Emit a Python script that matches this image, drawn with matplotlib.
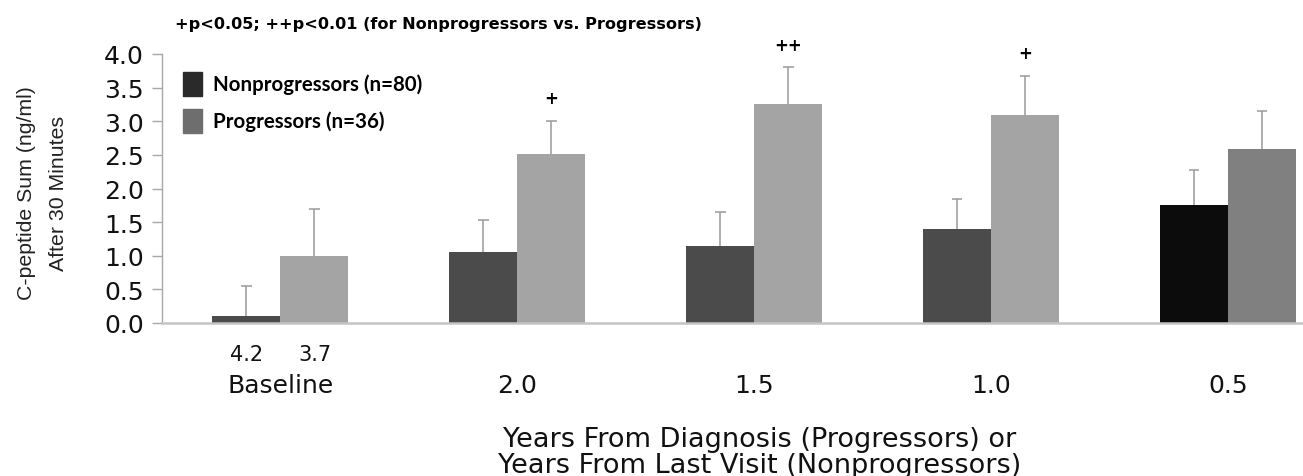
import matplotlib
matplotlib.use("Agg")
import matplotlib.pyplot as plt
from matplotlib.patches import Rectangle
import numpy as np

groups = ["Baseline", "2.0", "1.5", "1.0", "0.5"]
nonprog = [0.10, 1.05, 1.15, 1.40, 1.75]
nonprog_err = [0.45, 0.48, 0.50, 0.45, 0.53]
prog = [1.00, 2.52, 3.25, 3.10, 2.58]
prog_err = [0.70, 0.48, 0.55, 0.58, 0.57]
sig = ["", "+", "++", "+", ""]
baseline_sub = ["4.2", "3.7"]
yticks = [0.0, 0.5, 1.0, 1.5, 2.0, 2.5, 3.0, 3.5, 4.0]

W, H = 1303, 477
fig = plt.figure(figsize=(W / 100, H / 100), dpi=100)
ax = fig.add_axes([162 / W, 1 - 324 / H, (W - 162) / W, (324 - 55) / H])

x = np.arange(len(groups))
w = 0.287
c_np = ["#4b4b4b"] * 4 + ["#0c0c0c"]
c_p = ["#a4a4a4"] * 4 + ["#808080"]
ax.bar(x - w / 2, nonprog, w, color=c_np, zorder=2)
ax.bar(x + w / 2, prog, w, color=c_p, zorder=2)

# upper error bars only
ecol = "#9a9a9a"
cap = 0.022
for xs, vals, errs in [(x - w / 2, nonprog, nonprog_err), (x + w / 2, prog, prog_err)]:
    vals = np.asarray(vals)
    errs = np.asarray(errs)
    ax.vlines(xs, vals, vals + errs, color=ecol, lw=1.1, zorder=1)
    ax.hlines(vals + errs, xs - cap, xs + cap, color=ecol, lw=1.1, zorder=1)

for i, s in enumerate(sig):
    if s:
        ax.text(x[i] + w / 2, prog[i] + prog_err[i] + 0.34, s, ha="center", va="center",
                fontsize=12, fontweight="bold", family="DejaVu Sans")

ax.set_xlim(-0.50, 4.316)
ax.set_ylim(0, 4.0)
ax.set_yticks(yticks)
ax.set_yticklabels([f"{v:.1f}" for v in yticks], fontsize=18, family="DejaVu Sans")
ax.set_xticks([])
for sp in ["top", "right"]:
    ax.spines[sp].set_visible(False)
ax.spines["left"].set_color("#a8a8a8")
ax.spines["left"].set_linewidth(1.0)
ax.spines["bottom"].set_color("#c4c4c4")
ax.spines["bottom"].set_linewidth(1.8)
ax.tick_params(axis="y", colors="#a8a8a8", labelcolor="#111111", length=7, width=1.0, pad=6)

# sub labels and group labels
for j, xs in enumerate([x[0] - w / 2, x[0] + w / 2]):
    ax.text(xs, -0.46, baseline_sub[j], ha="center", va="center", fontsize=15,
            family="DejaVu Sans", color="#111111")
for i, g in enumerate(groups):
    ax.text(x[i], -0.92, g, ha="center", va="center", fontsize=18,
            family="DejaVu Sans", color="#111111")

fig.text(760 / W, 1 - 440 / H, "Years From Diagnosis (Progressors) or",
         ha="center", va="center", fontsize=19.5, family="DejaVu Sans", color="#111111")
fig.text(760 / W, 1 - 466 / H, "Years From Last Visit (Nonprogressors)",
         ha="center", va="center", fontsize=19.5, family="DejaVu Sans", color="#111111")

fig.text(27 / W, 1 - 193 / H, "C-peptide Sum (ng/ml)", rotation=90,
         ha="center", va="center", fontsize=15.3, family="Liberation Sans", color="#222222")
fig.text(59 / W, 1 - 193 / H, "After 30 Minutes", rotation=90,
         ha="center", va="center", fontsize=15.3, family="Liberation Sans", color="#222222")

fig.text(175 / W, 1 - 25 / H, "+p<0.05; ++p<0.01 (for Nonprogressors vs. Progressors)",
         ha="left", va="center", fontsize=11.6, fontweight="bold", family="DejaVu Sans")

# legend
for (yc, col, lab) in [(85, "#2a2a2a", "Nonprogressors (n=80)"), (122, "#6e6e6e", "Progressors (n=36)")]:
    fig.patches.append(Rectangle((183 / W, 1 - (yc + 12) / H), 19 / W, 24 / H,
                                 transform=fig.transFigure, color=col))
    fig.text(213 / W, 1 - yc / H, lab, ha="left", va="center",
             fontsize=14.8, fontweight="bold", family="Lato")

fig.savefig("out.png", dpi=100)
